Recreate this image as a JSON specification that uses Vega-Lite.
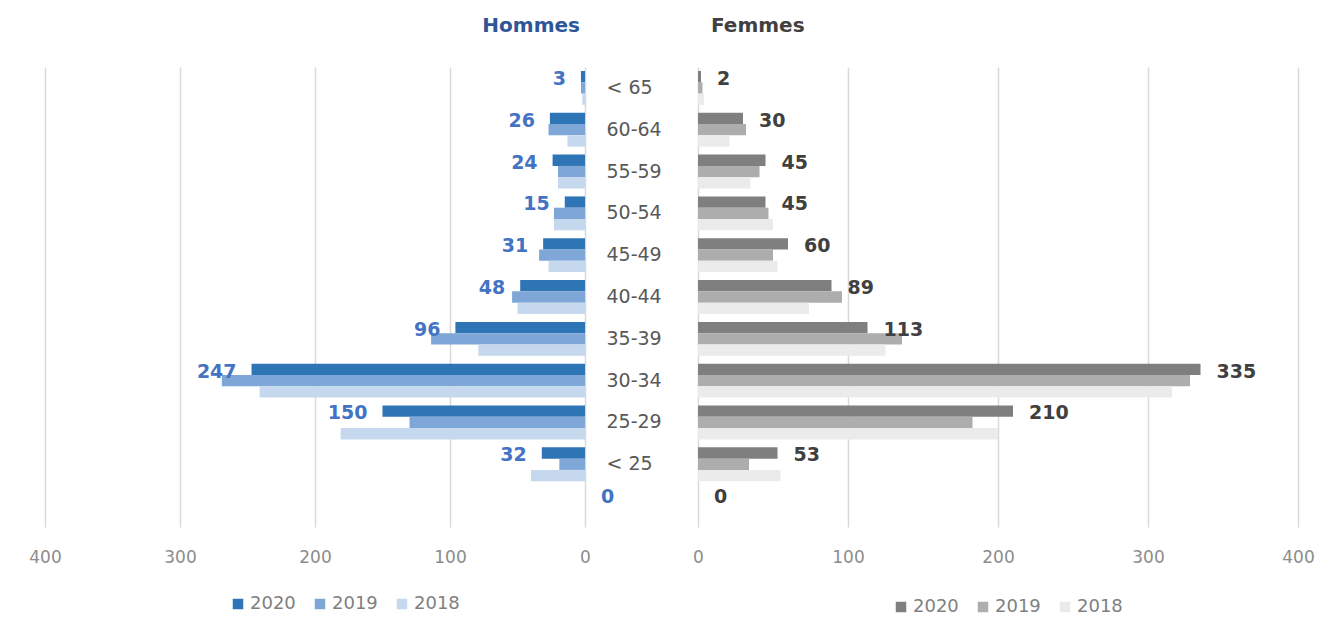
{
  "$schema": "https://vega.github.io/schema/vega-lite/v6.json",
  "background": "white",
  "padding": {"left": 28, "top": 16, "right": 5, "bottom": 5},
  "bounds": "flush",
  "spacing": 113,
  "config": {
    "view": {"stroke": null},
    "font": "DejaVu Sans",
    "axisX": {
      "grid": true, "gridColor": "#D9D9D9", "gridWidth": 1.5,
      "domain": false, "ticks": false, "labelFontSize": 17, "labelColor": "#8C8C8C",
      "labelPadding": 22, "labelFlush": false, "title": null
    }
  },
  "data": {"values": [
    {"sexe": "Hommes", "age": "< 65", "annee": "2020", "value": 3},
    {"sexe": "Hommes", "age": "< 65", "annee": "2019", "value": 3},
    {"sexe": "Hommes", "age": "< 65", "annee": "2018", "value": 2},
    {"sexe": "Hommes", "age": "60-64", "annee": "2020", "value": 26},
    {"sexe": "Hommes", "age": "60-64", "annee": "2019", "value": 27},
    {"sexe": "Hommes", "age": "60-64", "annee": "2018", "value": 13},
    {"sexe": "Hommes", "age": "55-59", "annee": "2020", "value": 24},
    {"sexe": "Hommes", "age": "55-59", "annee": "2019", "value": 20},
    {"sexe": "Hommes", "age": "55-59", "annee": "2018", "value": 20},
    {"sexe": "Hommes", "age": "50-54", "annee": "2020", "value": 15},
    {"sexe": "Hommes", "age": "50-54", "annee": "2019", "value": 23},
    {"sexe": "Hommes", "age": "50-54", "annee": "2018", "value": 23},
    {"sexe": "Hommes", "age": "45-49", "annee": "2020", "value": 31},
    {"sexe": "Hommes", "age": "45-49", "annee": "2019", "value": 34},
    {"sexe": "Hommes", "age": "45-49", "annee": "2018", "value": 27},
    {"sexe": "Hommes", "age": "40-44", "annee": "2020", "value": 48},
    {"sexe": "Hommes", "age": "40-44", "annee": "2019", "value": 54},
    {"sexe": "Hommes", "age": "40-44", "annee": "2018", "value": 50},
    {"sexe": "Hommes", "age": "35-39", "annee": "2020", "value": 96},
    {"sexe": "Hommes", "age": "35-39", "annee": "2019", "value": 114},
    {"sexe": "Hommes", "age": "35-39", "annee": "2018", "value": 79},
    {"sexe": "Hommes", "age": "30-34", "annee": "2020", "value": 247},
    {"sexe": "Hommes", "age": "30-34", "annee": "2019", "value": 269},
    {"sexe": "Hommes", "age": "30-34", "annee": "2018", "value": 241},
    {"sexe": "Hommes", "age": "25-29", "annee": "2020", "value": 150},
    {"sexe": "Hommes", "age": "25-29", "annee": "2019", "value": 130},
    {"sexe": "Hommes", "age": "25-29", "annee": "2018", "value": 181},
    {"sexe": "Hommes", "age": "< 25", "annee": "2020", "value": 32},
    {"sexe": "Hommes", "age": "< 25", "annee": "2019", "value": 19},
    {"sexe": "Hommes", "age": "< 25", "annee": "2018", "value": 40},
    {"sexe": "Hommes", "age": " ", "annee": "2020", "value": 0},
    {"sexe": "Hommes", "age": " ", "annee": "2019", "value": 0},
    {"sexe": "Hommes", "age": " ", "annee": "2018", "value": 0},
    {"sexe": "Femmes", "age": "< 65", "annee": "2020", "value": 2},
    {"sexe": "Femmes", "age": "< 65", "annee": "2019", "value": 3},
    {"sexe": "Femmes", "age": "< 65", "annee": "2018", "value": 4},
    {"sexe": "Femmes", "age": "60-64", "annee": "2020", "value": 30},
    {"sexe": "Femmes", "age": "60-64", "annee": "2019", "value": 32},
    {"sexe": "Femmes", "age": "60-64", "annee": "2018", "value": 21},
    {"sexe": "Femmes", "age": "55-59", "annee": "2020", "value": 45},
    {"sexe": "Femmes", "age": "55-59", "annee": "2019", "value": 41},
    {"sexe": "Femmes", "age": "55-59", "annee": "2018", "value": 35},
    {"sexe": "Femmes", "age": "50-54", "annee": "2020", "value": 45},
    {"sexe": "Femmes", "age": "50-54", "annee": "2019", "value": 47},
    {"sexe": "Femmes", "age": "50-54", "annee": "2018", "value": 50},
    {"sexe": "Femmes", "age": "45-49", "annee": "2020", "value": 60},
    {"sexe": "Femmes", "age": "45-49", "annee": "2019", "value": 50},
    {"sexe": "Femmes", "age": "45-49", "annee": "2018", "value": 53},
    {"sexe": "Femmes", "age": "40-44", "annee": "2020", "value": 89},
    {"sexe": "Femmes", "age": "40-44", "annee": "2019", "value": 96},
    {"sexe": "Femmes", "age": "40-44", "annee": "2018", "value": 74},
    {"sexe": "Femmes", "age": "35-39", "annee": "2020", "value": 113},
    {"sexe": "Femmes", "age": "35-39", "annee": "2019", "value": 136},
    {"sexe": "Femmes", "age": "35-39", "annee": "2018", "value": 125},
    {"sexe": "Femmes", "age": "30-34", "annee": "2020", "value": 335},
    {"sexe": "Femmes", "age": "30-34", "annee": "2019", "value": 328},
    {"sexe": "Femmes", "age": "30-34", "annee": "2018", "value": 316},
    {"sexe": "Femmes", "age": "25-29", "annee": "2020", "value": 210},
    {"sexe": "Femmes", "age": "25-29", "annee": "2019", "value": 183},
    {"sexe": "Femmes", "age": "25-29", "annee": "2018", "value": 200},
    {"sexe": "Femmes", "age": "< 25", "annee": "2020", "value": 53},
    {"sexe": "Femmes", "age": "< 25", "annee": "2019", "value": 34},
    {"sexe": "Femmes", "age": "< 25", "annee": "2018", "value": 55},
    {"sexe": "Femmes", "age": " ", "annee": "2020", "value": 0},
    {"sexe": "Femmes", "age": " ", "annee": "2019", "value": 0},
    {"sexe": "Femmes", "age": " ", "annee": "2018", "value": 0}
  ]},
  "resolve": {"scale": {"x": "independent", "color": "independent"}},
  "hconcat": [
    {
      "width": 540,
      "height": 460,
      "transform": [{"filter": "datum.sexe === 'Hommes'"}],
      "title": {"text": "Hommes", "anchor": "end", "frame": "group", "color": "#2F5597", "fontSize": 20, "fontWeight": "bold", "offset": 31, "dx": -5},
      "encoding": {
        "y": {
          "field": "age", "type": "nominal",
          "sort": ["< 65", "60-64", "55-59", "50-54", "45-49", "40-44", "35-39", "30-34", "25-29", "< 25", " "],
          "scale": {"paddingInner": 0.19, "paddingOuter": 0.095},
          "axis": {"orient": "right", "title": null, "labelAlign": "left", "labelPadding": 21, "labelFontSize": 19, "labelColor": "#595959", "ticks": false, "domain": false, "grid": false}
        }
      },
      "layer": [
        {
          "mark": {"type": "bar"},
          "encoding": {
            "x": {"field": "value", "type": "quantitative", "scale": {"domain": [0, 400], "reverse": true}, "axis": {"values": [0, 100, 200, 300, 400]}},
            "yOffset": {"field": "annee", "type": "nominal", "sort": ["2020", "2019", "2018"]},
            "color": {
              "field": "annee", "type": "nominal",
              "scale": {"domain": ["2020", "2019", "2018"], "range": ["#2E75B6", "#7EA6D6", "#C5D8EE"]},
              "legend": {"orient": "none", "legendX": 184, "legendY": 528, "direction": "horizontal", "title": null, "symbolType": "square", "symbolSize": 110, "symbolStrokeWidth": 0, "labelFontSize": 18, "labelColor": "#7F7F7F", "labelOffset": 3, "columnPadding": 15}
            }
          }
        },
        {
          "transform": [{"filter": "datum.annee === '2020' && datum.value > 0"}],
          "mark": {"type": "text", "align": "right", "baseline": "middle", "dx": -15, "dy": -9, "fontWeight": "bold", "fontSize": 19, "color": "#4472C4"},
          "encoding": {
            "x": {"field": "value", "type": "quantitative"},
            "text": {"field": "value", "type": "quantitative"}
          }
        },
        {
          "transform": [{"filter": "datum.annee === '2020' && datum.value === 0"}],
          "mark": {"type": "text", "align": "left", "baseline": "middle", "dx": 16, "dy": -9, "fontWeight": "bold", "fontSize": 19, "color": "#4472C4"},
          "encoding": {
            "x": {"field": "value", "type": "quantitative"},
            "text": {"field": "value", "type": "quantitative"}
          }
        }
      ]
    },
    {
      "width": 600,
      "height": 460,
      "transform": [{"filter": "datum.sexe === 'Femmes'"}],
      "title": {"text": "Femmes", "anchor": "start", "frame": "group", "color": "#404040", "fontSize": 20, "fontWeight": "bold", "offset": 31, "dx": 13},
      "encoding": {
        "y": {
          "field": "age", "type": "nominal",
          "sort": ["< 65", "60-64", "55-59", "50-54", "45-49", "40-44", "35-39", "30-34", "25-29", "< 25", " "],
          "scale": {"paddingInner": 0.19, "paddingOuter": 0.095},
          "axis": null
        }
      },
      "layer": [
        {
          "mark": {"type": "bar"},
          "encoding": {
            "x": {"field": "value", "type": "quantitative", "scale": {"domain": [0, 400]}, "axis": {"values": [0, 100, 200, 300, 400]}},
            "yOffset": {"field": "annee", "type": "nominal", "sort": ["2020", "2019", "2018"]},
            "color": {
              "field": "annee", "type": "nominal",
              "scale": {"domain": ["2020", "2019", "2018"], "range": ["#7F7F7F", "#ADADAD", "#EBEBEB"]},
              "legend": {"orient": "none", "legendX": 194, "legendY": 531, "direction": "horizontal", "title": null, "symbolType": "square", "symbolSize": 110, "symbolStrokeWidth": 0, "labelFontSize": 18, "labelColor": "#7F7F7F", "labelOffset": 3, "columnPadding": 15}
            }
          }
        },
        {
          "transform": [{"filter": "datum.annee === '2020'"}],
          "mark": {"type": "text", "align": "left", "baseline": "middle", "dx": 16, "dy": -9, "fontWeight": "bold", "fontSize": 19, "color": "#404040"},
          "encoding": {
            "x": {"field": "value", "type": "quantitative"},
            "text": {"field": "value", "type": "quantitative"}
          }
        }
      ]
    }
  ]
}
